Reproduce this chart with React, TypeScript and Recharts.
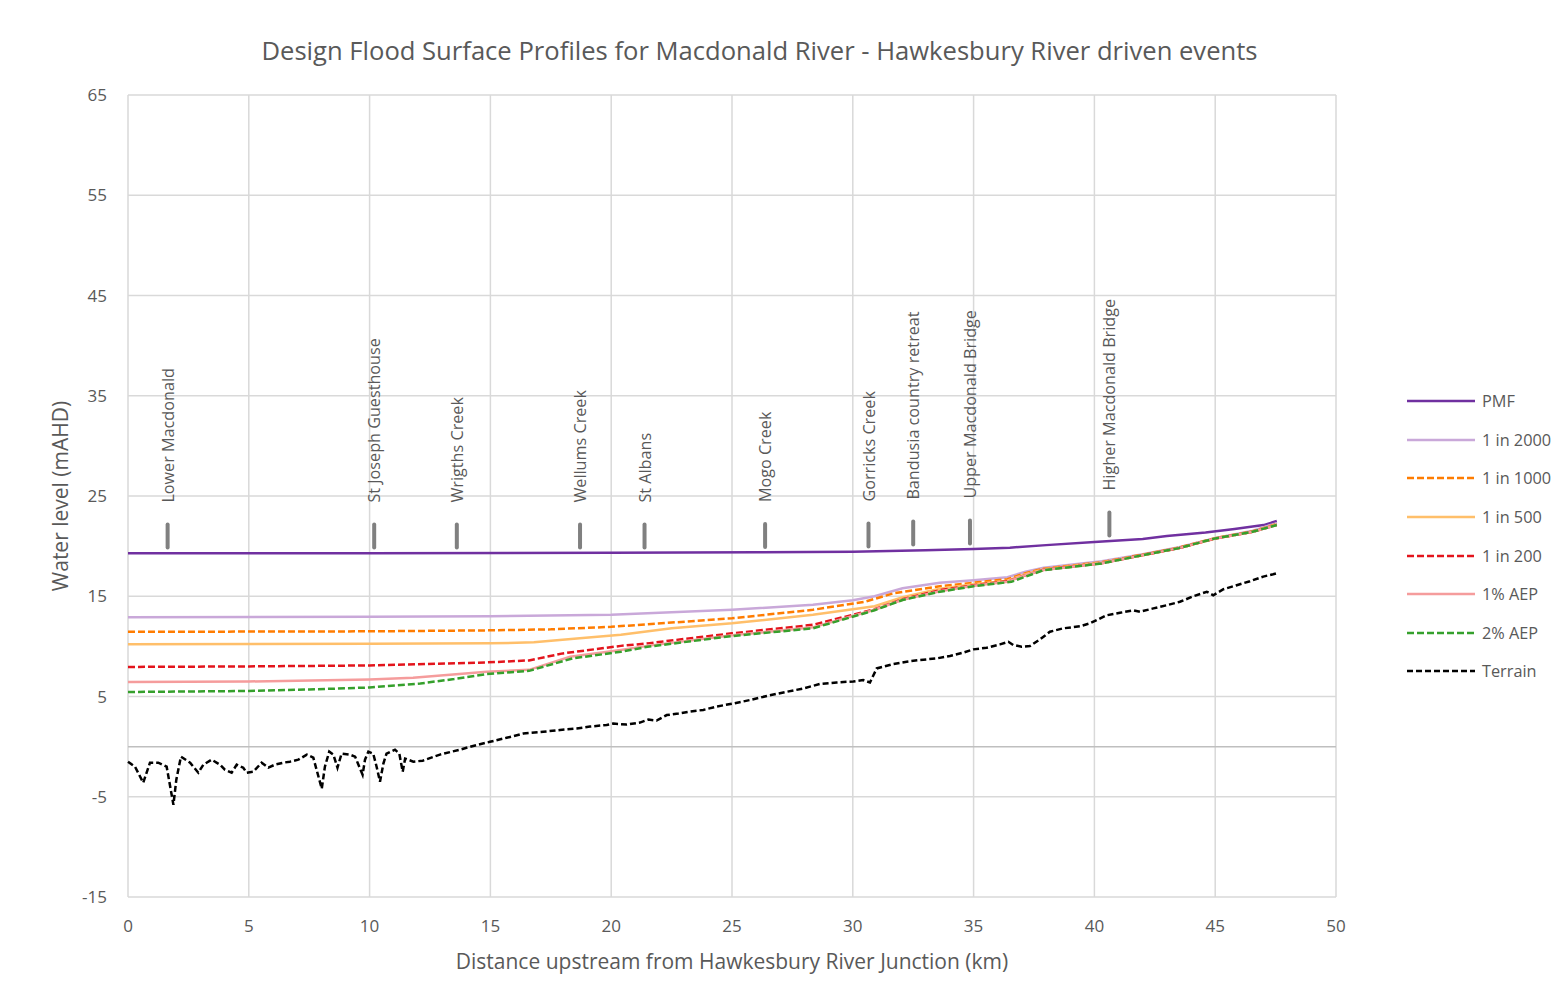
import React from 'react';
import {
  ComposedChart,
  Line,
  Scatter,
  XAxis,
  YAxis,
  CartesianGrid,
  ReferenceLine,
  Legend,
} from 'recharts';

// ---------- data ----------
const X_TICKS = [0, 5, 10, 15, 20, 25, 30, 35, 40, 45, 50];
const Y_TICKS = [-15, -5, 5, 15, 25, 35, 45, 55, 65];

// [km, water level mAHD]
const PMF: [number, number][] = [
  [0, 19.3], [10, 19.3], [20, 19.33], [26, 19.38], [30, 19.45], [33, 19.6], [35, 19.72],
  [36.5, 19.85], [38, 20.1], [40, 20.4], [42, 20.7], [43, 21.0], [44.6, 21.35],
  [45.8, 21.7], [47, 22.1], [47.55, 22.5],
];
const AEP_2000: [number, number][] = [
  [0, 12.9], [10, 12.95], [15, 13.0], [20, 13.15], [25, 13.65], [28.35, 14.15], [30, 14.6],
  [30.9, 15.0], [32.06, 15.8], [33.6, 16.35], [35, 16.6], [36.4, 16.9], [37.15, 17.45],
  [37.9, 17.85], [40.3, 18.5], [42, 19.2], [43.5, 19.9], [45, 20.8], [46.5, 21.5], [47.55, 22.3],
];
const AEP_1000: [number, number][] = [
  [0, 11.45], [10, 11.5], [15, 11.6], [17.5, 11.7], [20, 11.95], [25, 12.8], [28.35, 13.65],
  [30.5, 14.45], [31.7, 15.3], [33.6, 16.0], [35, 16.35], [36.4, 16.7], [37.15, 17.3],
  [37.9, 17.75], [40.3, 18.4], [42, 19.15], [43.5, 19.85], [45, 20.8], [46.5, 21.45], [47.55, 22.2],
];
const AEP_500: [number, number][] = [
  [0, 10.2], [10, 10.25], [15, 10.3], [16.8, 10.4], [18.7, 10.8], [20.4, 11.15], [22.5, 11.8],
  [25, 12.3], [28.35, 13.15], [30.9, 14.0], [32.06, 14.9], [33.6, 15.75], [35, 16.2],
  [36.4, 16.55], [37.15, 17.2], [37.9, 17.7], [40.3, 18.35], [42, 19.1], [43.5, 19.8],
  [45, 20.75], [46.5, 21.4], [47.55, 22.15],
];
const AEP_200: [number, number][] = [
  [0, 7.95], [5, 8.0], [10, 8.1], [14.85, 8.4], [16.6, 8.6], [18, 9.3], [20.4, 10.05],
  [21.5, 10.3], [25, 11.3], [28.35, 12.15], [30.9, 13.7], [32.06, 14.7], [33.6, 15.6],
  [35, 16.1], [36.4, 16.5], [37.15, 17.1], [37.9, 17.65], [40.3, 18.3], [42, 19.1],
  [43.5, 19.8], [45, 20.75], [46.5, 21.4], [47.55, 22.1],
];
const AEP_1PCT: [number, number][] = [
  [0, 6.45], [5, 6.5], [10, 6.7], [11.8, 6.86], [14.85, 7.46], [16.6, 7.66], [18.3, 8.96],
  [20.4, 9.64], [21.5, 10.05], [25, 11.1], [28.35, 11.9], [30.9, 13.65], [32.06, 14.65],
  [33.6, 15.5], [35, 16.05], [36.4, 16.45], [37.15, 17.1], [37.9, 17.62], [40.3, 18.3],
  [42, 19.1], [43.5, 19.8], [45, 20.77], [46.5, 21.4], [47.55, 22.1],
];
const AEP_2PCT: [number, number][] = [
  [0, 5.45], [5, 5.55], [7.5, 5.7], [10, 5.9], [12.1, 6.3], [13.5, 6.74], [14.85, 7.24],
  [16.6, 7.56], [18.4, 8.8], [20.4, 9.46], [21.5, 9.96], [25, 11.03], [28.35, 11.8],
  [30.9, 13.6], [32.06, 14.63], [33.6, 15.45], [35, 16.0], [36.56, 16.44], [37.9, 17.6],
  [40.3, 18.27], [42, 19.1], [43.5, 19.8], [45, 20.77], [46.5, 21.4], [47.55, 22.1],
];
const TERRAIN: [number, number][] = [
  [0.0, -1.5], [0.29, -2.0], [0.63, -3.6], [0.91, -1.6], [1.25, -1.6], [1.6, -2.0], [1.88, -5.8],
  [2.0, -3.3], [2.19, -1.0], [2.57, -1.6], [2.91, -2.6], [3.12, -1.8], [3.46, -1.3], [3.81, -1.8],
  [4.01, -2.3], [4.29, -2.6], [4.5, -1.8], [4.77, -2.1], [4.91, -2.6], [5.19, -2.5], [5.53, -1.6],
  [5.81, -2.1], [6.08, -1.8], [6.43, -1.6], [6.7, -1.5], [7.05, -1.3], [7.4, -0.8], [7.67, -1.1],
  [8.02, -4.2], [8.15, -2.0], [8.33, -0.5], [8.5, -0.8], [8.67, -2.1], [8.84, -0.7], [9.19, -0.8],
  [9.4, -1.0], [9.71, -2.8], [9.81, -1.3], [9.95, -0.5], [10.15, -0.7], [10.29, -2.0], [10.43, -3.5],
  [10.57, -1.7], [10.7, -0.7], [11.05, -0.3], [11.23, -0.7], [11.37, -2.5], [11.47, -1.2],
  [11.81, -1.5], [12.2, -1.4], [12.91, -0.8], [13.74, -0.3], [14.43, 0.16], [14.98, 0.48],
  [15.67, 0.88], [16.36, 1.3], [17.19, 1.48], [17.88, 1.66], [18.57, 1.8], [19.12, 2.0],
  [19.81, 2.16], [20.09, 2.3], [20.64, 2.2], [21.19, 2.4], [21.54, 2.7], [21.88, 2.6],
  [22.3, 3.15], [22.78, 3.3], [23.26, 3.5], [23.81, 3.66], [24.37, 4.0], [25.05, 4.3],
  [25.75, 4.65], [26.44, 5.05], [27.26, 5.47], [27.95, 5.8], [28.64, 6.25], [29.33, 6.4],
  [30.02, 6.5], [30.43, 6.64], [30.71, 6.4], [30.99, 7.8], [31.26, 7.97], [31.68, 8.24],
  [32.23, 8.47], [32.78, 8.64], [33.47, 8.8], [34.02, 9.04], [34.57, 9.37], [34.99, 9.7],
  [35.54, 9.86], [36.09, 10.2], [36.44, 10.46], [36.64, 10.14], [36.99, 9.96], [37.33, 10.03],
  [37.75, 10.7], [38.16, 11.46], [38.71, 11.8], [39.4, 12.0], [39.82, 12.3], [40.16, 12.7],
  [40.5, 13.1], [41.06, 13.35], [41.61, 13.6], [41.89, 13.45], [42.44, 13.79], [42.99, 14.1],
  [43.54, 14.45], [44.1, 15.0], [44.65, 15.45], [44.92, 15.1], [45.34, 15.7], [45.89, 16.1],
  [46.44, 16.5], [46.99, 16.96], [47.4, 17.2], [47.55, 17.3],
];

// Locations: name, km, marker level
const LOCATION_NAMES = [
  'Lower Macdonald', 'St Joseph Guesthouse', 'Wrigths Creek', 'Wellums Creek', 'St Albans',
  'Mogo Creek', 'Gorricks Creek', 'Bandusia country retreat', 'Upper Macdonald Bridge',
  'Higher Macdonald Bridge',
];
const LOCATION_KM = [1.64, 10.19, 13.61, 18.71, 21.38, 26.37, 30.65, 32.5, 34.85, 40.62];
const LOCATION_LEVEL = [21.0, 21.0, 21.0, 21.0, 21.0, 21.05, 21.1, 21.3, 21.4, 22.2];

const SERIES = [
  { name: 'PMF', data: PMF, color: '#7030a0', dash: undefined as string | undefined },
  { name: '1 in 2000', data: AEP_2000, color: '#c9a8d9', dash: undefined },
  { name: '1 in 1000', data: AEP_1000, color: '#ff7c00', dash: '7 3' },
  { name: '1 in 500', data: AEP_500, color: '#ffbf6a', dash: undefined },
  { name: '1 in 200', data: AEP_200, color: '#e3141c', dash: '7 3' },
  { name: '1% AEP', data: AEP_1PCT, color: '#f59c9c', dash: undefined },
  { name: '2% AEP', data: AEP_2PCT, color: '#35a02c', dash: '7 3' },
  { name: 'Terrain', data: TERRAIN, color: '#000000', dash: '6 3' },
];

const toPoints = (arr: [number, number][]) => arr.map(([x, y]) => ({ x, y }));
const LOCATIONS = LOCATION_NAMES.map((name, i) => ({ name, x: LOCATION_KM[i], y: LOCATION_LEVEL[i] }));

const TEXT = '#595959';
const FONT = "'Open Sans', sans-serif";

const LocationMarker = (props: any) => {
  const { cx, cy, payload } = props;
  if (cx == null || cy == null) return null;
  const half = 11.5;
  const ty = cy - half - 22;
  return (
    <g>
      <line x1={cx} x2={cx} y1={cy - half} y2={cy + half} stroke="#808080" strokeWidth={4} strokeLinecap="round" />
      <text
        x={cx}
        y={ty}
        transform={`rotate(-90, ${cx}, ${ty})`}
        textAnchor="start"
        dominantBaseline="central"
        fontSize={16.2}
        fill={TEXT}
        fontFamily={FONT}
      >
        {payload.name}
      </text>
    </g>
  );
};

const LegendContent = () => (
  <div style={{ fontFamily: FONT, fontSize: 16.3, color: TEXT }}>
    {SERIES.map((s) => (
      <div key={s.name} style={{ display: 'flex', alignItems: 'center', height: 38.6 }}>
        <svg width={72} height={6} style={{ display: 'block' }}>
          <line x1={0} x2={68} y1={3} y2={3} stroke={s.color} strokeWidth={2.5} strokeDasharray={s.dash} />
        </svg>
        <span style={{ marginLeft: 3, whiteSpace: 'nowrap' }}>{s.name}</span>
      </div>
    ))}
  </div>
);

export default function App() {
  const W = 1549;
  const H = 988;
  return (
    <div style={{ position: 'relative', width: W, height: H, fontFamily: FONT, background: '#fff' }}>
      <div
        style={{
          position: 'absolute',
          left: 0,
          width: 1503,
          top: 26,
          textAlign: 'center',
          fontSize: 25.6,
          lineHeight: '34px',
          color: TEXT,
          zIndex: 2,
          whiteSpace: 'nowrap',
        }}
      >
        Design Flood Surface Profiles for Macdonald River - Hawkesbury River driven events
      </div>
      <ComposedChart width={W} height={H} margin={{ top: 87, right: 221, left: 0, bottom: 0 }}>
        <CartesianGrid stroke="#d9d9d9" strokeWidth={1.5} />
        <XAxis
          type="number"
          dataKey="x"
          domain={[0, 50]}
          ticks={X_TICKS}
          interval={0}
          axisLine={false}
          tickLine={false}
          tickMargin={17}
          height={99}
          allowDuplicatedCategory={false}
          tick={{ fill: TEXT, fontSize: 17 }}
          label={(p: any) => {
            const vb = p.viewBox || {};
            return (
              <text x={vb.x + vb.width / 2} y={953} textAnchor="middle" dominantBaseline="central" fontSize={21} fill={TEXT}>
                Distance upstream from Hawkesbury River Junction (km)
              </text>
            );
          }}
        />
        <YAxis
          type="number"
          dataKey="y"
          domain={[-15, 65]}
          ticks={Y_TICKS}
          interval={0}
          axisLine={false}
          tickLine={false}
          tickMargin={15}
          width={120}
          tick={{ fill: TEXT, fontSize: 17 }}
          label={(p: any) => {
            const vb = p.viewBox || {};
            const cy = vb.y + vb.height / 2;
            return (
              <text x={52} y={cy} transform={`rotate(-90, 52, ${cy})`} textAnchor="middle" dominantBaseline="central" fontSize={21} fill={TEXT}>
                Water level (mAHD)
              </text>
            );
          }}
        />
        <ReferenceLine y={0} stroke="#bfbfbf" strokeWidth={1.5} />
        {SERIES.map((s) => (
          <Line
            key={s.name}
            name={s.name}
            data={toPoints(s.data)}
            dataKey="y"
            type="linear"
            stroke={s.color}
            strokeWidth={2.5}
            strokeDasharray={s.dash}
            dot={false}
            activeDot={false}
            isAnimationActive={false}
          />
        ))}
        <Scatter
          name="locations"
          data={LOCATIONS}
          dataKey="y"
          shape={LocationMarker}
          isAnimationActive={false}
          legendType="none"
        />
        <Legend
          layout="vertical"
          align="center"
          verticalAlign="middle"
          content={LegendContent}
          wrapperStyle={{ left: 1399, top: 374, width: 150 }}
        />
      </ComposedChart>
    </div>
  );
}
